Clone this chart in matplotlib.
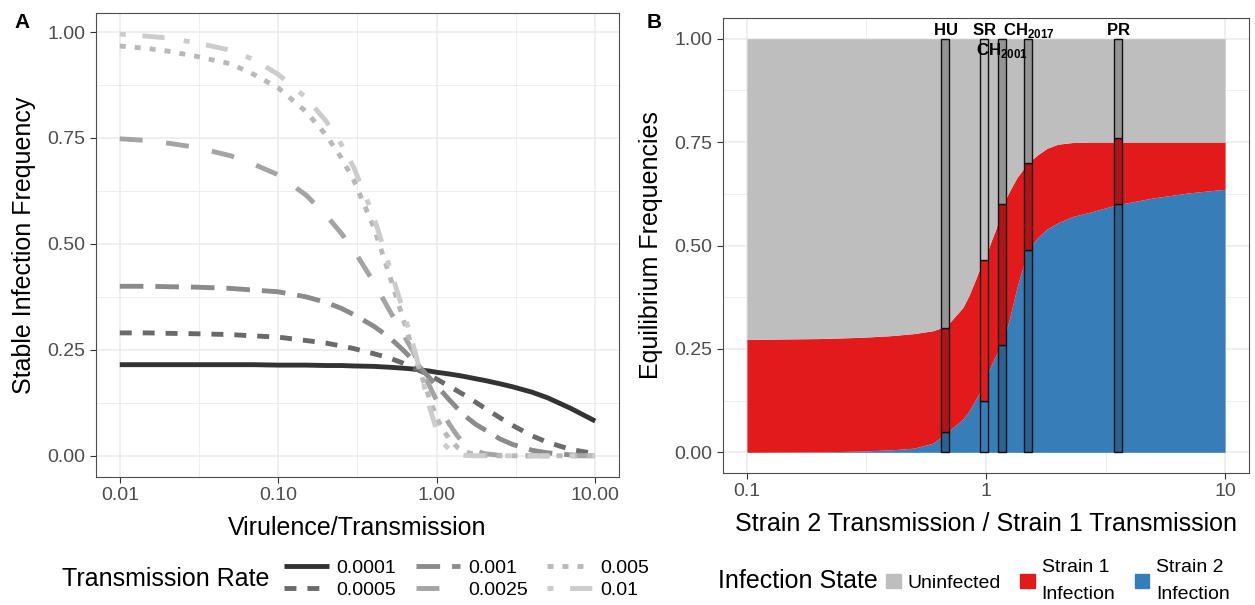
import matplotlib
matplotlib.use('Agg')
import matplotlib.pyplot as plt
import matplotlib.ticker as mticker
import numpy as np
from matplotlib.patches import Patch

plt.rcParams['font.family'] = ['Liberation Sans', 'DejaVu Sans']
plt.rcParams['lines.scale_dashes'] = False
plt.rcParams['mathtext.fontset'] = 'custom'
plt.rcParams['mathtext.bf'] = 'Liberation Sans:bold'
plt.rcParams['mathtext.rm'] = 'Liberation Sans'

# ---- panel A data ----
virulence = [0.01, 0.015, 0.02, 0.03, 0.05, 0.07, 0.1, 0.15, 0.2, 0.25, 0.3, 0.4, 0.5, 0.6, 0.7,
             0.8, 0.9, 1.0, 1.1, 1.2, 1.35, 1.5, 1.75, 2, 2.5, 3, 4, 5, 7, 10]
rate_labels = ['0.0001', '0.0005', '0.001', '0.0025', '0.005', '0.01']
freq_0001 = [.215, .215, .215, .215, .215, .215, .214, .214, .213, .213, .212, .211, .209, .207, .205,
             .202, .200, .197, .195, .193, .190, .187, .182, .178, .170, .163, .150, .137, .112, .082]
freq_0005 = [.290, .290, .289, .288, .286, .283, .280, .272, .266, .259, .253, .241, .231, .220, .209,
             .199, .190, .181, .172, .164, .153, .143, .127, .113, .090, .072, .047, .032, .015, .005]
freq_001 = [.400, .400, .399, .398, .395, .391, .387, .375, .362, .348, .333, .306, .280, .253, .228,
            .205, .184, .165, .148, .132, .112, .095, .075, .062, .040, .027, .013, .007, .002, .000]
freq_0025 = [.748, .744, .738, .728, .708, .688, .663, .615, .568, .525, .485, .410, .345, .293, .250,
             .205, .165, .130, .100, .075, .047, .027, .012, .005, .001, .000, .000, .000, .000, .000]
freq_005 = [.967, .961, .955, .943, .925, .900, .868, .812, .757, .703, .650, .540, .430, .335, .255,
            .190, .135, .090, .060, .040, .020, .010, .003, .001, .000, .000, .000, .000, .000, .000]
freq_01 = [.995, .990, .986, .975, .957, .935, .900, .845, .790, .735, .680, .565, .450, .355, .270,
           .190, .115, .060, .030, .015, .004, .001, .000, .000, .000, .000, .000, .000, .000, .000]

# ---- panel B data ----
ratio = [0.1, 0.2, 0.3, 0.4, 0.5, 0.6, 0.68, 0.72, 0.8, 0.85, 0.9, 0.95, 1.0, 1.05, 1.1, 1.18,
         1.25, 1.35, 1.5, 1.65, 1.8, 2.0, 2.3, 2.7, 3.5, 5, 7, 10]
strain2 = [0.0, 0.001, 0.003, 0.006, 0.010, 0.022, 0.045, 0.058, 0.080, 0.100, 0.125, 0.150, 0.180,
           0.210, 0.235, 0.270, 0.320, 0.400, 0.490, 0.520, 0.540, 0.555, 0.570, 0.580, 0.598,
           0.615, 0.627, 0.636]
infected = [0.273, 0.275, 0.278, 0.282, 0.287, 0.294, 0.305, 0.320, 0.350, 0.380, 0.415, 0.450,
            0.475, 0.510, 0.540, 0.600, 0.630, 0.665, 0.700, 0.720, 0.735, 0.745, 0.749, 0.750,
            0.750, 0.750, 0.750, 0.750]

pop_names = [r'$\mathbf{HU}$', r'$\mathbf{SR}$', r'$\mathbf{CH}_{\mathbf{2001}}$',
             r'$\mathbf{CH}_{\mathbf{2017}}$', r'$\mathbf{PR}$']
pop_ratio = [0.674, 0.98, 1.166, 1.505, 3.57]
pop_strain2 = [0.05, 0.125, 0.26, 0.49, 0.60]
pop_infected = [0.30, 0.465, 0.60, 0.70, 0.76]

col_unin, col_s1, col_s2 = '#BEBEBE', '#E31A1C', '#377EB8'
greys = ['#333333', '#6a6a6a', '#8b8b8b', '#a4a4a4', '#b9b9b9', '#cccccc']
dash_list = [None, (8.6, 7.9), (17, 8.6), (16.5, 17), (4.3, 6.5), (4.3, 12, 16, 14)]


def style(ax):
    ax.set_facecolor('white')
    ax.grid(which='major', color='#ebebeb', lw=1.1)
    ax.grid(which='minor', color='#ebebeb', lw=0.6)
    ax.set_axisbelow(True)
    for s in ax.spines.values():
        s.set_color('#4d4d4d')
        s.set_linewidth(0.8)
    ax.tick_params(which='major', length=4, width=0.8, color='#333333',
                   labelsize=14, labelcolor='#4d4d4d')
    ax.tick_params(which='minor', length=0)
    ax.set_yticks([0, 0.25, 0.5, 0.75, 1.0])
    ax.set_yticklabels(['0.00', '0.25', '0.50', '0.75', '1.00'])
    ax.yaxis.set_minor_locator(mticker.FixedLocator([0.125, 0.375, 0.625, 0.875]))


fig = plt.figure(figsize=(12.55, 6.05), dpi=100)
axA = fig.add_axes([0.0765, 0.2116, 0.4167, 0.767])
axB = fig.add_axes([0.5761, 0.2182, 0.4191, 0.752])

# ---- panel A ----
series = [freq_0001, freq_0005, freq_001, freq_0025, freq_005, freq_01]
handles = []
for vals, lab, c, d in zip(series, rate_labels, greys, dash_list):
    ln, = axA.plot(virulence, vals, color=c, lw=3.5, label=lab, solid_capstyle='butt')
    if d is not None:
        ln.set_dashes(d)
    handles.append(ln)
axA.set_xscale('log')
axA.set_xlim(10 ** -2.15, 10 ** 1.15)
axA.set_ylim(-0.05, 1.045)
style(axA)
axA.set_xticks([0.01, 0.1, 1, 10])
axA.set_xticklabels(['0.01', '0.10', '1.00', '10.00'])
axA.xaxis.set_minor_locator(mticker.FixedLocator([10 ** -1.5, 10 ** -0.5, 10 ** 0.5]))
axA.xaxis.set_minor_formatter(mticker.NullFormatter())
axA.set_xlabel('Virulence/Transmission', fontsize=18, labelpad=8)
axA.set_ylabel('Stable Infection Frequency', fontsize=18, labelpad=8)

# ---- panel B ----
axB.fill_between(ratio, 0, strain2, color=col_s2, lw=0)
axB.fill_between(ratio, strain2, infected, color=col_s1, lw=0)
axB.fill_between(ratio, infected, 1, color=col_unin, lw=0)

hw = 0.0167  # half bar width in decades
shade = [0.22, 0.0, 0.22, 0.22, 0.22]
for x, b, r, sh in zip(pop_ratio, pop_strain2, pop_infected, shade):
    lo, hi = x * 10 ** -hw, x * 10 ** hw
    segs = [(0, b, col_s2), (b, r - b, col_s1), (r, 1 - r, col_unin)]
    for bot, h, c in segs:
        rgb = np.array(matplotlib.colors.to_rgb(c)) * (1 - sh)
        axB.bar(lo, h, width=hi - lo, bottom=bot, align='edge', color=rgb,
                edgecolor='#111111', lw=1.0, zorder=3)
for x, name in zip(pop_ratio, pop_names):
    if '2001' in name:
        axB.text(x, 0.995, name, ha='center', va='top', fontsize=12, zorder=4)
    else:
        axB.text(x, 1.008, name, ha='center', va='baseline', fontsize=12, zorder=4)

axB.set_xscale('log')
axB.set_xlim(10 ** -1.1, 10 ** 1.1)
axB.set_ylim(-0.05, 1.05)
style(axB)
axB.set_xticks([0.1, 1, 10])
axB.set_xticklabels(['0.1', '1', '10'])
axB.xaxis.set_minor_locator(mticker.FixedLocator([10 ** -0.5, 10 ** 0.5]))
axB.xaxis.set_minor_formatter(mticker.NullFormatter())
axB.set_xlabel('Strain 2 Transmission / Strain 1 Transmission', fontsize=18, labelpad=8)
axB.set_ylabel('Equilibrium Frequencies', fontsize=18, labelpad=8)

# ---- legends ----
fig.text(62 / 1255, 1 - 579 / 605, 'Transmission Rate', fontsize=18, va='center')
fig.legend(handles=handles, loc='center left', bbox_to_anchor=(284 / 1255, 1 - 579 / 605),
           ncol=3, frameon=False, fontsize=14, handlelength=2.3, handletextpad=0.4,
           columnspacing=1.0, labelspacing=0.25, borderpad=0, borderaxespad=0)

fig.text(718 / 1255, 1 - 581 / 605, 'Infection State', fontsize=18, va='center')
patches = [Patch(color=col_unin, label='Uninfected'),
           Patch(color=col_s1, label='Strain 1\nInfection'),
           Patch(color=col_s2, label='Strain 2\nInfection')]
legB = fig.legend(handles=patches, loc='center left', bbox_to_anchor=(886 / 1255, 1 - 581 / 605),
                  ncol=3, frameon=False, fontsize=14, handlelength=0.75, handleheight=0.75,
                  handletextpad=0.35, columnspacing=1.0, borderpad=0, borderaxespad=0)
for t in legB.get_texts():
    t.set_linespacing(1.7)

fig.text(14 / 1255, 1 - 22 / 605, 'A', fontsize=15, fontweight='bold', va='center')
fig.text(647 / 1255, 1 - 22 / 605, 'B', fontsize=15, fontweight='bold', va='center')

fig.savefig('out.png', dpi=100)
